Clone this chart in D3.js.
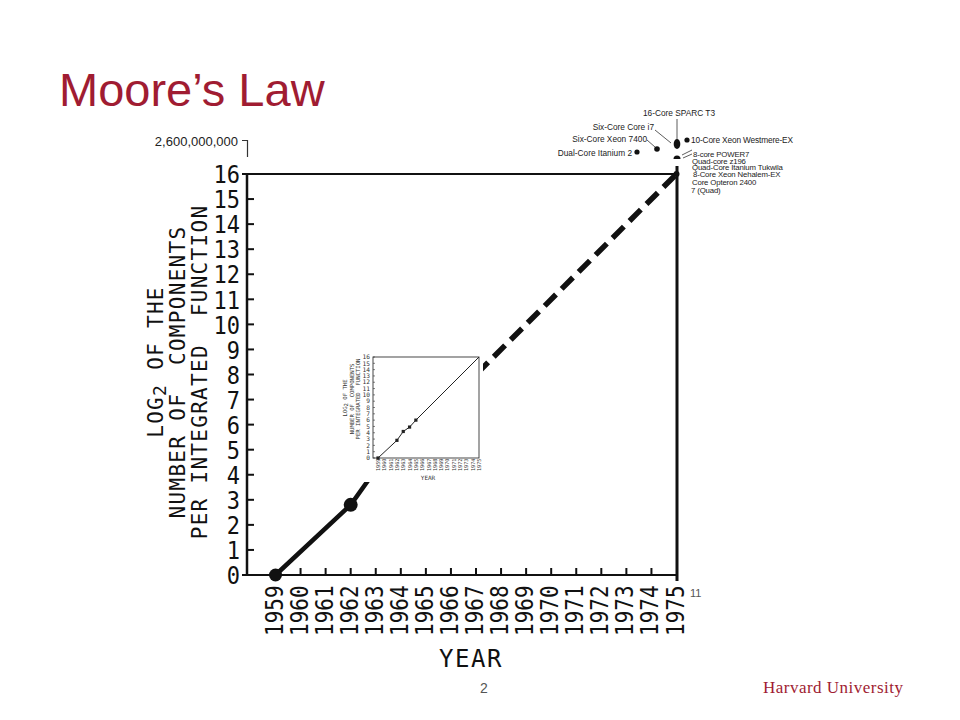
<!DOCTYPE html>
<html><head><meta charset="utf-8">
<script src="https://cdn.jsdelivr.net/npm/d3@7"></script>
<style>body{margin:0;background:#fff}svg{display:block}text{white-space:pre}</style>
</head><body><svg id="c" width="960" height="720"></svg>
<script>
// ---- data ----
const years = [1959, 1962, 1963, 1964, 1965];
const log2Components = [0, 2.8, 4.2, 4.9, 6];
const projectionYears = [1965, 1975];
const projectionValues = [6, 16];
const markerYears = [1959, 1962];
const markerValues = [0, 2.8];
const insetMarkerYears = [1959, 1962, 1963, 1964, 1965];
const insetMarkerValues = [0, 2.8, 4.2, 4.9, 6];
const yTickValues = [0,1,2,3,4,5,6,7,8,9,10,11,12,13,14,15,16];
const yTickLabels = ["0","1","2","3","4","5","6","7","8","9","10","11","12","13","14","15","16"];
const xTickYears = [1959,1960,1961,1962,1963,1964,1965,1966,1967,1968,1969,1970,1971,1972,1973,1974,1975];
const xTickLabels = ["1959","1960","1961","1962","1963","1964","1965","1966","1967","1968","1969","1970","1971","1972","1973","1974","1975"];
const yTitleLines = ["LOG", "NUMBER OF  COMPONENTS", "PER INTEGRATED  FUNCTION"];
const xTitle = "YEAR";
const topCountLabel = "2,600,000,000";
const chipTop = "16-Core SPARC T3";
const chipLeft = ["Six-Core Core i7", "Six-Core Xeon 7400", "Dual-Core Itanium 2"];
const chipRight = ["10-Core Xeon Westmere-EX", "8-core POWER7", "Quad-core z196", "Quad-Core Itanium Tukwila", "8-Core Xeon Nehalem-EX", "Core Opteron 2400", "7 (Quad)"];

(function draw() {
const svg = d3.select("#c");
const crimson = "#A01C32";
const ink = "#111";
const mono = "'DejaVu Sans Mono', monospace";
const sans = "'Liberation Sans', Arial, sans-serif";

// title
svg.append("text").attr("x", 59).attr("y", 106).attr("font-family", sans)
  .attr("font-size", 47).attr("fill", crimson).text("Moore\u2019s Law");

// ---- main chart ----
const x = d3.scaleLinear().domain([1959, 1975]).range([275.5, 676.5]);
const y = d3.scaleLinear().domain([0, 16]).range([575, 174]);
const pL = 247, pT = y(16), pR = x(1975), pB = y(0);

const g = svg.append("g");
g.append("path").attr("d", `M${pL},${pT}H${pR+1}`).attr("stroke", ink).attr("stroke-width", 2);
g.append("path").attr("d", `M${pL},${pT-1}V${pB+1}`).attr("stroke", ink).attr("stroke-width", 2.5);
g.append("path").attr("d", `M${pL-1},${pB}H${pR+1}`).attr("stroke", ink).attr("stroke-width", 2.2);
g.append("path").attr("d", `M${pR+0.5},${pT-8}V${pB+6}`).attr("stroke", ink).attr("stroke-width", 3);

// y ticks + labels
g.selectAll(".yt").data(yTickValues.filter(v => v > 0 && v < 16)).join("line")
  .attr("x1", pL).attr("x2", pL + 7).attr("y1", d => y(d)).attr("y2", d => y(d))
  .attr("stroke", ink).attr("stroke-width", 2);
g.append("path").attr("d", `M${pL-5},${pT}H${pL}`).attr("stroke", ink).attr("stroke-width", 2);
g.append("path").attr("d", `M${pL-5},${pB}H${pL}`).attr("stroke", ink).attr("stroke-width", 2);
g.selectAll(".yl").data(yTickValues).join("g")
  .attr("transform", d => `translate(240,${y(d)})`)
  .append("text").attr("transform", "scale(1,1.15)").attr("y", 8)
  .attr("text-anchor", "end").attr("font-family", mono).attr("font-size", 22).attr("fill", ink)
  .text((d, i) => yTickLabels[i]);

// x ticks + labels
g.selectAll(".xt").data(xTickYears.filter(v => v > 1959 && v < 1975)).join("line")
  .attr("x1", d => x(d)).attr("x2", d => x(d)).attr("y1", pB).attr("y2", pB - 7)
  .attr("stroke", ink).attr("stroke-width", 2);
g.selectAll(".xl").data(xTickYears).join("g")
  .attr("transform", d => `translate(${x(d) + 7},636) rotate(-90)`)
  .append("text").attr("transform", "scale(1,1.15)")
  .attr("font-family", mono).attr("font-size", 21).attr("fill", ink)
  .text((d, i) => xTickLabels[i]);

// axis titles
g.append("text").attr("x", 471).attr("y", 667).attr("text-anchor", "middle")
  .attr("font-family", mono).attr("font-size", 24).attr("letter-spacing", 1.5).attr("fill", ink).text(xTitle);
const t1 = g.append("text").attr("transform", "translate(163,362) rotate(-90)").attr("text-anchor", "middle")
  .attr("font-family", mono).attr("font-size", 21).attr("letter-spacing", 1.3).attr("fill", ink);
t1.append("tspan").text(yTitleLines[0]);
t1.append("tspan").attr("dy", 3).attr("font-size", 18).text("2");
t1.append("tspan").attr("dy", -3).text(" OF THE");
[185, 207].forEach((bx, i) => {
  g.append("text").attr("transform", `translate(${bx},372) rotate(-90)`).attr("text-anchor", "middle")
    .attr("font-family", mono).attr("font-size", 21).attr("letter-spacing", 1.3).attr("fill", ink).text(yTitleLines[i + 1]);
});

// data lines
const line = d3.line().x(d => x(d[0])).y(d => y(d[1]));
g.append("path").attr("d", line(years.map((v, i) => [v, log2Components[i]])))
  .attr("fill", "none").attr("stroke", ink).attr("stroke-width", 4.5).attr("stroke-linejoin", "round");
g.append("path").attr("d", line(projectionYears.map((v, i) => [v, projectionValues[i]])))
  .attr("fill", "none").attr("stroke", ink).attr("stroke-width", 5.5).attr("stroke-dasharray", "16 8");
g.selectAll(".mk").data(markerYears).join("circle")
  .attr("cx", d => x(d)).attr("cy", (d, i) => y(markerValues[i])).attr("r", (d, i) => i ? 7 : 6.5).attr("fill", ink);
g.append("circle").attr("cx", x(1975)).attr("cy", y(16)).attr("r", 3).attr("fill", ink);

// ---- inset (covers middle of main chart) ----
const ig = svg.append("g");
ig.append("rect").attr("x", 340).attr("y", 351).attr("width", 143).attr("height", 131).attr("fill", "#fff");
const ix = d3.scaleLinear().domain([1959, 1975]).range([378, 479]);
const iy = d3.scaleLinear().domain([0, 16]).range([458, 357]);
ig.append("rect").attr("x", 373).attr("y", iy(16)).attr("width", ix(1975) - 373).attr("height", iy(0) - iy(16))
  .attr("fill", "none").attr("stroke", "#333").attr("stroke-width", 0.9);
ig.selectAll(".iyl").data(yTickValues).join("text")
  .attr("x", 370).attr("y", d => iy(d) + 2.2).attr("text-anchor", "end")
  .attr("font-family", mono).attr("font-size", 6.2).attr("fill", "#333").text((d, i) => yTickLabels[i]);
ig.selectAll(".iyt").data(yTickValues).join("line")
  .attr("x1", 373).attr("x2", 375).attr("y1", d => iy(d)).attr("y2", d => iy(d)).attr("stroke", "#333").attr("stroke-width", 0.6);
ig.selectAll(".ixl").data(xTickYears).join("text")
  .attr("transform", d => `translate(${ix(d) + 2},471) rotate(-90)`)
  .attr("font-family", mono).attr("font-size", 5.2).attr("fill", "#333").text((d, i) => xTickLabels[i]);
ig.append("text").attr("x", 428).attr("y", 480).attr("text-anchor", "middle")
  .attr("font-family", mono).attr("font-size", 6).attr("fill", "#333").text(xTitle);
const it1 = ig.append("text").attr("transform", "translate(347,398) rotate(-90)").attr("text-anchor", "middle")
  .attr("font-family", mono).attr("font-size", 5.6).attr("fill", "#333");
it1.append("tspan").text(yTitleLines[0]);
it1.append("tspan").attr("dy", 1).text("2");
it1.append("tspan").attr("dy", -1).text(" OF THE");
[353.5, 360].forEach((bx, i) => {
  ig.append("text").attr("transform", `translate(${bx},399) rotate(-90)`).attr("text-anchor", "middle")
    .attr("font-family", mono).attr("font-size", 5.6).attr("fill", "#333").text(yTitleLines[i + 1]);
});
const iline = d3.line().x(d => ix(d[0])).y(d => iy(d[1]));
ig.append("path").attr("d", iline(years.concat([1975]).map((v, i) => [v, log2Components.concat([16])[i]])))
  .attr("fill", "none").attr("stroke", "#222").attr("stroke-width", 1);
ig.selectAll(".imk").data(insetMarkerYears).join("rect")
  .attr("x", d => ix(d) - 1.6).attr("y", (d, i) => iy(insetMarkerValues[i]) - 1.6)
  .attr("width", 3.2).attr("height", 3.2).attr("fill", "#222");

// ---- annotations ----
const an = svg.append("g").attr("font-family", sans).attr("fill", "#222");
an.append("text").attr("x", 238).attr("y", 146).attr("text-anchor", "end").attr("font-size", 13).text(topCountLabel);
an.append("path").attr("d", "M242,140.5H247.5V157").attr("fill", "none").attr("stroke", "#333").attr("stroke-width", 1.2);

an.append("text").attr("x", 679).attr("y", 116).attr("text-anchor", "middle").attr("font-size", 8.3).text(chipTop);
const leftPos = [[654, 130], [647, 142], [632, 156]];
chipLeft.forEach((t, i) => an.append("text").attr("x", leftPos[i][0]).attr("y", leftPos[i][1])
  .attr("text-anchor", "end").attr("font-size", 8.3).text(t));
const rightPos = [[691, 143], [693, 157], [692, 163.5], [692, 170], [693, 176.5], [692, 185], [691, 192.5]];
chipRight.forEach((t, i) => an.append("text").attr("x", rightPos[i][0]).attr("y", rightPos[i][1])
  .attr("font-size", i === 0 ? 8.3 : 7.8).attr("letter-spacing", -0.15).text(t));
const conn = "#333";
["M677,119V139", "M655,130L671,143", "M647,140L655,147", "M682,155L692,150", "M683,158L692,154"]
  .forEach(d => an.append("path").attr("d", d).attr("stroke", conn).attr("stroke-width", 0.8).attr("fill", "none"));
an.append("ellipse").attr("cx", 677).attr("cy", 144).attr("rx", 3.3).attr("ry", 5).attr("fill", "#111");
an.append("circle").attr("cx", 687).attr("cy", 140).attr("r", 2.6).attr("fill", "#111");
an.append("circle").attr("cx", 657).attr("cy", 149).attr("r", 2.8).attr("fill", "#111");
an.append("circle").attr("cx", 637).attr("cy", 152).attr("r", 2.6).attr("fill", "#111");
an.append("path").attr("d", "M673.5,159A3.5,3.5 0 0 1 680.5,159Z").attr("fill", "#111");
an.append("text").attr("x", 690).attr("y", 597).attr("font-size", 11).attr("fill", "#555").text("11");

// footer
svg.append("text").attr("x", 484).attr("y", 693).attr("text-anchor", "middle").attr("font-family", sans)
  .attr("font-size", 14).attr("fill", "#555").text("2");
svg.append("text").attr("x", 903).attr("y", 693).attr("text-anchor", "end").attr("font-family", "'Liberation Serif', serif")
  .attr("font-size", 17).attr("textLength", 140).attr("fill", crimson).text("Harvard University");
})();
</script></body></html>
